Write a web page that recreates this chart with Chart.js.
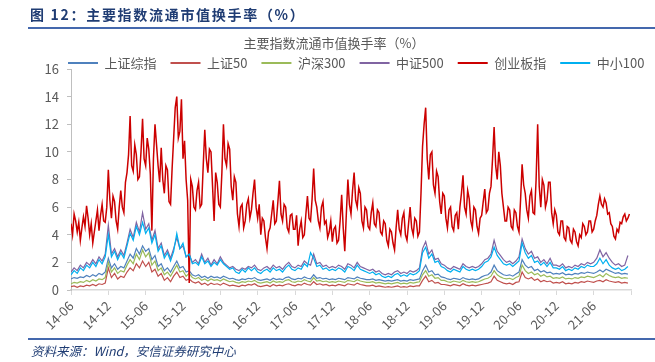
<!DOCTYPE html>
<html>
<head>
<meta charset="utf-8">
<script src="https://cdn.jsdelivr.net/npm/chart.js@4"></script>
<style>
body{margin:0;background:#fff;}
#wrap{position:relative;width:655px;height:362px;overflow:hidden;font-family:"Noto Sans CJK SC",sans-serif;}
#chart{position:absolute;left:0;top:0;}
.head{position:absolute;left:30px;top:4px;font-size:14px;font-weight:bold;color:#1f3c73;letter-spacing:1.7px;line-height:20px;white-space:nowrap;}
.rule{position:absolute;left:28px;width:627px;height:2px;background:#4468ad;}
.src{position:absolute;left:31px;top:342px;font-size:12.5px;font-style:italic;color:#1f3c73;line-height:18px;white-space:nowrap;}
</style>
</head>
<body>
<div id="wrap">
<canvas id="chart" width="655" height="362"></canvas>
<div class="head">图 12：主要指数流通市值换手率（%）</div>
<div class="rule" style="top:27px"></div>
<div class="rule" style="top:338px"></div>
<div class="src">资料来源：Wind，安信证券研究中心</div>
</div>
<script>
// x ticks every 6 months, starting 2014-06
const tickLabels = ['14-06','14-12','15-06','15-12','16-06','16-12','17-06','17-12','18-06','18-12','19-06','19-12','20-06','20-12','21-06'];
// sampling in months: half month for most series, quarter month for 创业板指
const STEP = 0.5;
const STEP_CYB = 0.25;

const seriesNames = ['上证综指','上证50','沪深300','中证500','创业板指','中小100'];

const szzz = [
  0.8,0.9,0.85,0.95,0.9,1.05,0.95,1.1,1.0,1.2,1.1,1.3,
  2.3,1.6,1.9,1.5,1.7,1.6,2.1,2.6,2.3,3.0,2.6,3.2,
  2.8,3.0,2.2,2.5,1.7,1.9,1.4,1.6,1.3,1.7,2.1,1.6,
  1.7,1.3,1.4,1.1,1.0,1.1,0.9,1.0,0.85,1.0,0.9,0.95,
  0.85,1.0,0.9,0.8,0.85,0.75,0.7,0.8,0.75,0.85,0.8,0.9,
  0.75,0.7,0.75,0.8,0.7,0.85,0.75,0.8,0.75,0.9,0.95,0.8,
  0.75,0.85,0.8,0.95,0.85,0.8,1.1,0.85,0.9,0.8,0.85,0.75,
  0.8,0.75,0.85,0.8,0.75,0.9,0.85,0.8,0.95,0.85,0.8,0.75,
  0.75,0.8,0.7,0.75,0.7,0.65,0.7,0.65,0.7,0.75,0.65,0.7,
  0.65,0.75,0.7,0.75,0.8,1.4,1.8,1.3,1.4,1.1,1.15,0.95,
  0.9,0.8,0.75,0.85,0.8,0.75,0.9,0.8,0.75,0.8,0.75,0.8,
  0.95,1.05,1.1,1.3,1.8,1.4,1.25,1.1,1.05,1.1,1.0,1.15,
  1.3,2.2,1.8,1.6,1.7,1.4,1.5,1.3,1.4,1.25,1.3,1.15,
  1.2,1.15,1.25,1.1,1.15,1.1,1.2,1.15,1.25,1.2,1.3,1.25,
  1.2,1.3,1.45,1.3,1.5,1.4,1.3,1.2,1.25,1.15,1.2,1.15
];
const sz50 = [
  0.25,0.3,0.2,0.3,0.25,0.35,0.3,0.4,0.3,0.45,0.4,0.5,
  1.6,0.9,1.2,0.8,1.0,0.9,1.3,1.6,1.4,1.9,1.6,2.1,
  1.7,2.0,1.3,1.5,1.0,1.2,0.7,0.9,0.6,1.0,1.3,0.9,
  1.0,0.7,0.8,0.6,0.5,0.6,0.4,0.5,0.35,0.5,0.4,0.45,
  0.35,0.5,0.4,0.3,0.35,0.3,0.25,0.35,0.3,0.4,0.35,0.45,
  0.3,0.25,0.3,0.35,0.25,0.4,0.3,0.35,0.3,0.4,0.45,0.35,
  0.3,0.4,0.35,0.5,0.4,0.35,0.6,0.4,0.45,0.35,0.4,0.3,
  0.35,0.3,0.4,0.35,0.3,0.45,0.4,0.35,0.5,0.4,0.35,0.3,
  0.3,0.35,0.25,0.3,0.25,0.2,0.25,0.2,0.25,0.3,0.2,0.25,
  0.2,0.3,0.25,0.3,0.3,0.7,1.0,0.6,0.7,0.5,0.55,0.4,
  0.4,0.35,0.3,0.4,0.35,0.3,0.45,0.35,0.3,0.35,0.3,0.35,
  0.4,0.45,0.5,0.6,1.0,0.7,0.6,0.5,0.45,0.5,0.4,0.55,
  0.6,1.3,0.9,0.8,0.9,0.7,0.8,0.6,0.7,0.6,0.65,0.5,
  0.55,0.5,0.6,0.45,0.5,0.45,0.55,0.5,0.6,0.55,0.65,0.6,
  0.55,0.65,0.7,0.6,0.75,0.65,0.6,0.55,0.6,0.5,0.55,0.5
];
const hs300 = [
  0.45,0.55,0.5,0.6,0.55,0.7,0.6,0.75,0.65,0.8,0.75,0.9,
  2.0,1.3,1.6,1.2,1.4,1.3,1.8,2.2,1.9,2.6,2.2,2.9,
  2.4,2.7,1.8,2.1,1.4,1.6,1.1,1.3,1.0,1.4,1.8,1.3,
  1.4,1.0,1.2,0.9,0.8,0.9,0.7,0.8,0.65,0.8,0.7,0.75,
  0.65,0.8,0.7,0.6,0.65,0.55,0.5,0.6,0.55,0.65,0.6,0.7,
  0.55,0.5,0.55,0.6,0.5,0.65,0.55,0.6,0.55,0.7,0.75,0.6,
  0.55,0.65,0.6,0.75,0.65,0.6,0.9,0.65,0.7,0.6,0.65,0.55,
  0.6,0.55,0.65,0.6,0.55,0.7,0.65,0.6,0.75,0.65,0.6,0.55,
  0.55,0.6,0.5,0.55,0.5,0.45,0.5,0.45,0.5,0.55,0.45,0.5,
  0.45,0.55,0.5,0.55,0.6,1.1,1.4,1.0,1.1,0.85,0.9,0.7,
  0.7,0.6,0.55,0.65,0.6,0.55,0.7,0.6,0.55,0.6,0.55,0.6,
  0.7,0.8,0.85,1.0,1.4,1.1,0.95,0.85,0.8,0.85,0.75,0.9,
  1.0,1.8,1.4,1.2,1.3,1.1,1.2,1.0,1.1,0.95,1.0,0.85,
  0.9,0.85,0.95,0.8,0.85,0.8,0.9,0.85,0.95,0.9,1.0,0.95,
  0.9,1.0,1.1,0.95,1.2,1.05,0.95,0.9,0.95,0.85,0.9,0.85
];
const zz500 = [
  1.3,1.6,1.4,1.8,1.6,2.0,1.8,2.2,1.9,2.4,2.1,2.6,
  4.7,2.6,3.0,2.4,2.9,2.5,3.4,4.4,3.8,4.9,4.2,5.6,
  4.4,4.8,3.6,4.3,3.0,3.4,2.5,2.9,2.3,3.0,3.8,3.0,
  3.2,2.4,2.6,2.0,2.2,1.9,2.6,2.0,2.3,1.8,2.2,1.9,
  2.4,2.0,1.8,1.6,1.7,1.5,1.4,1.6,1.5,1.7,1.6,1.8,
  1.5,1.4,1.6,1.7,1.5,1.8,1.6,1.7,1.5,1.8,2.0,1.7,
  1.6,1.8,1.7,2.1,1.9,1.8,2.6,1.9,2.0,1.7,1.8,1.6,
  1.7,1.6,1.8,1.7,1.5,1.9,1.8,1.6,2.0,1.7,1.6,1.5,
  1.4,1.5,1.3,1.4,1.2,1.1,1.2,1.1,1.3,1.4,1.2,1.3,
  1.2,1.4,1.3,1.4,1.6,3.0,3.5,2.6,2.9,2.2,2.3,1.9,
  1.8,1.6,1.5,1.7,1.6,1.5,1.9,1.7,1.6,1.7,1.6,1.7,
  1.9,2.2,2.3,2.6,3.6,2.8,2.5,2.2,2.0,2.1,1.9,2.1,
  2.4,3.7,3.0,2.6,2.8,2.3,2.4,2.0,2.2,1.9,2.3,1.8,
  1.8,1.7,1.9,1.6,1.7,1.6,1.8,1.7,1.9,1.8,2.0,1.9,
  2.0,2.3,2.9,2.4,2.7,2.3,2.0,1.8,1.9,1.7,1.8,2.5
];
// quarter-month values, 24 per row (6 months)
const cyb = [
  4.8,4.0,5.5,5.0,4.2,4.9,3.6,4.5,5.3,4.6,6.1,5.2,4.0,4.8,3.4,4.2,5.0,5.8,4.3,5.4,6.2,5.0,4.9,6.0,
  8.7,6.5,5.2,6.8,6.4,5.0,4.4,6.0,7.2,6.0,5.6,7.8,8.5,9.8,12.6,9.0,8.6,10.5,9.8,8.0,8.2,10.0,12.4,9.5,
  9.0,11.0,10.2,8.4,4.3,9.5,12.0,10.5,9.0,7.8,10.3,8.0,7.0,9.0,8.7,6.4,6.2,8.8,11.0,13.2,14.0,11.0,11.5,13.8,
  9.5,10.8,8.0,6.5,0.5,8.0,7.5,6.0,5.8,7.2,7.8,6.0,6.2,9.0,11.6,9.5,8.5,10.2,10.0,7.5,5.0,8.5,7.8,6.2,
  6.0,8.5,12.0,9.5,9.0,10.6,10.2,7.5,6.5,8.2,7.8,5.5,4.6,6.0,6.2,4.5,5.0,6.2,6.6,5.2,5.8,7.0,8.0,6.0,
  5.2,6.2,4.0,5.2,5.0,3.8,3.0,4.2,4.5,5.5,6.5,4.8,5.0,6.4,7.9,5.5,5.0,6.2,6.0,4.5,4.2,5.4,5.5,4.4,
  4.4,5.4,3.2,4.4,5.0,3.8,4.0,5.5,6.8,5.2,5.0,6.6,8.8,6.5,6.0,5.0,4.5,6.0,6.4,4.8,5.0,3.8,4.2,5.0,
  3.5,4.4,4.6,3.4,3.6,5.0,6.9,4.5,2.8,5.5,8.0,6.2,5.5,7.2,8.5,6.5,6.0,7.4,7.0,5.0,4.5,6.0,5.8,4.6,
  4.4,5.6,6.3,4.8,4.6,5.8,5.6,4.2,4.0,5.0,4.8,3.6,3.2,4.4,4.2,3.4,2.9,4.5,5.8,4.4,4.0,5.2,5.6,4.0,
  3.6,4.8,6.0,4.5,4.0,5.2,5.0,3.9,4.2,7.0,10.4,12.0,13.2,9.5,8.0,9.8,10.0,7.6,7.0,8.6,8.2,6.4,5.5,7.0,
  6.8,5.2,4.5,5.8,6.0,4.6,4.3,5.4,5.6,4.4,6.0,7.0,8.3,6.0,5.5,7.2,6.6,5.0,4.5,6.0,5.8,4.6,4.1,5.2,
  5.4,6.4,7.3,5.6,5.8,7.0,7.5,9.5,11.8,9.0,8.0,10.0,9.0,7.0,6.0,5.0,5.0,6.0,5.8,4.6,4.4,5.8,5.6,4.6,
  4.2,6.5,9.1,7.6,7.0,5.8,5.2,6.8,7.2,5.6,5.5,8.0,12.0,7.5,6.0,8.0,7.6,6.0,6.5,7.8,7.8,5.6,4.8,5.8,
  5.4,4.2,4.0,5.0,5.0,3.8,3.6,4.6,4.5,3.6,3.4,4.4,4.2,3.5,3.2,4.0,3.8,4.8,4.6,4.0,4.2,5.0,5.0,4.2,
  4.4,5.0,5.4,6.2,6.8,6.2,6.0,6.6,6.3,5.5,5.6,4.8,4.6,3.9,3.7,4.4,4.2,4.9,4.8,5.3,5.5,5.0,5.2,5.5
];
const zx100 = [
  1.1,1.4,1.2,1.6,1.4,1.8,1.6,2.0,1.7,2.2,1.9,2.4,
  4.0,2.4,2.8,2.2,2.7,2.3,3.2,4.1,3.6,4.6,4.0,4.9,
  4.1,4.5,3.4,4.0,2.8,3.2,2.3,2.7,2.1,2.8,4.1,3.0,
  3.4,2.4,2.6,1.9,2.0,1.8,2.4,1.9,2.1,1.7,2.0,1.8,
  2.2,1.9,1.7,1.5,1.6,1.3,1.2,1.5,1.3,1.6,1.4,1.6,
  1.3,1.2,1.4,1.5,1.3,1.6,1.4,1.5,1.3,1.6,1.8,1.5,
  1.4,1.6,1.5,1.9,1.7,2.7,2.3,1.7,1.8,1.5,1.6,1.4,
  1.5,1.4,1.6,1.5,1.3,1.7,1.6,1.4,1.8,1.5,1.4,1.3,
  1.2,1.3,1.1,1.2,1.0,0.9,1.0,0.9,1.1,1.2,1.0,1.1,
  1.0,1.2,1.1,1.2,1.4,2.7,3.1,2.3,2.6,2.0,2.1,1.7,
  1.6,1.4,1.3,1.5,1.4,1.3,1.7,1.5,1.4,1.5,1.4,1.5,
  1.7,2.0,2.1,2.4,3.1,2.5,2.2,1.9,1.8,1.9,1.7,1.9,
  2.1,3.4,2.7,2.3,2.5,2.0,2.1,1.8,2.0,1.7,2.0,1.6,
  1.6,1.5,1.7,1.4,1.5,1.4,1.6,1.5,1.7,1.6,1.8,1.7,
  1.7,1.9,2.3,1.9,2.2,1.8,1.6,1.5,1.6,1.4,1.5,1.7
];

const seriesValues = [szzz, sz50, hs300, zz500, cyb, zx100];
const seriesSteps = [STEP, STEP, STEP, STEP, STEP_CYB, STEP];
const seriesColors = ['#4f81bd','#c0504d','#9bbb59','#8064a2','#cc0000','#00b0f0'];

const toPoints = (arr, step) => arr.map((v, i) => ({x: i * step, y: v}));

// nudge title/legend to where they sit in the original
const placeBlocks = {
  id: 'placeBlocks',
  afterLayout(chart) {
    const lg = chart.legend;
    lg.left = 54; lg.right = chart.width + 80; lg.bottom = lg.top + 40;
    const tb = chart.titleBlock;
    tb.left += 18.5; tb.right += 18.5;
  }
};

const ctx = document.getElementById('chart').getContext('2d');
const myChart = new Chart(ctx, {
  type: 'line',
  data: {
    datasets: seriesNames.map((name, k) => ({
      label: name,
      data: toPoints(seriesValues[k], seriesSteps[k]),
      borderColor: seriesColors[k],
      backgroundColor: seriesColors[k],
      borderWidth: k === 4 ? 1.5 : 1.2,
      pointRadius: 0,
      tension: 0,
      order: seriesNames.length - 1 - k
    }))
  },
  options: {
    responsive: false,
    animation: false,
    layout: { padding: { top: 33, left: 0, right: 24, bottom: 0 } },
    scales: {
      x: {
        type: 'linear',
        min: 0,
        max: 90,
        afterFit(scale) { scale.height = 72; },
        border: { color: '#d9d9d9', width: 1.5 },
        grid: { drawOnChartArea: false, tickLength: 5, color: '#d9d9d9' },
        ticks: {
          stepSize: 6,
          maxTicksLimit: 20,
          includeBounds: false,
          autoSkip: false,
          minRotation: 45,
          maxRotation: 45,
          padding: 3,
          color: '#595959',
          font: { family: 'Noto Sans CJK SC', size: 13 },
          callback: v => tickLabels[Math.round(v / 6)] || ''
        }
      },
      y: {
        min: 0,
        max: 16,
        afterFit(scale) { scale.width = 71; },
        border: { color: '#bfbfbf', width: 1 },
        grid: { drawOnChartArea: false, tickLength: 4, color: '#bfbfbf' },
        ticks: {
          stepSize: 2,
          padding: 8,
          color: '#595959',
          font: { family: 'Noto Sans CJK SC', size: 13 }
        }
      }
    },
    plugins: {
      title: {
        display: true,
        text: '主要指数流通市值换手率（%）',
        color: '#595959',
        font: { family: 'Noto Sans CJK SC', size: 13, weight: 'normal', lineHeight: 1.2 },
        padding: { top: 2, bottom: -8 }
      },
      legend: {
        position: 'top',
        align: 'start',
        reverse: true,
        maxHeight: 26.4,
        labels: {
          usePointStyle: true,
          pointStyle: 'line',
          pointStyleWidth: 30,
          padding: 14,
          color: '#595959',
          font: { family: 'Noto Sans CJK SC', size: 13 },
          generateLabels(chart) {
            return Chart.defaults.plugins.legend.labels.generateLabels(chart)
              .map(l => Object.assign(l, { lineWidth: 2 }));
          }
        }
      },
      tooltip: { enabled: false }
    }
  },
  plugins: [placeBlocks]
});
</script>
</body>
</html>
